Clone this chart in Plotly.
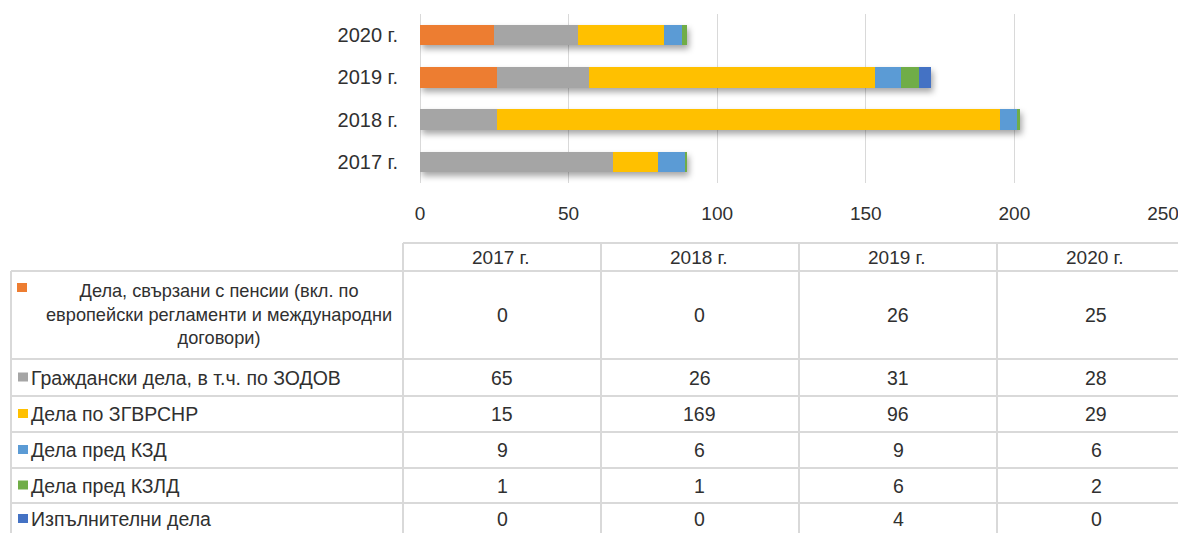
import plotly.graph_objects as go

years = ["2017 г.", "2018 г.", "2019 г.", "2020 г."]
series_names = [
    "Дела, свързани с пенсии (вкл. по<br>европейски регламенти и международни<br>договори)",
    "Граждански дела, в т.ч. по ЗОДОВ",
    "Дела по ЗГВРСНР",
    "Дела пред КЗД",
    "Дела пред КЗЛД",
    "Изпълнителни дела",
]
pensions = [0, 0, 26, 25]
civil = [65, 26, 31, 28]
zgvrsnr = [15, 169, 96, 29]
kzd = [9, 6, 9, 6]
kzld = [1, 1, 6, 2]
executive = [0, 0, 4, 0]
series_values = [pensions, civil, zgvrsnr, kzd, kzld, executive]
colors = ["#ED7D31", "#A5A5A5", "#FFC000", "#5B9BD5", "#70AD47", "#4472C4"]
x_ticks = [0, 50, 100, 150, 200, 250]

W, H = 1178, 533
FONT = "Liberation Sans Narrow, Arial Narrow, Liberation Sans, Arial, sans-serif"
TXT = "#303030"
LINE = "#D9D9D9"
FS = 19.5


def px(x):
    return x / W


def py(y):
    return 1 - y / H


fig = go.Figure()
for name, vals, col in zip(series_names, series_values, colors):
    fig.add_trace(go.Bar(
        y=years, x=vals, orientation="h", name=name.replace("<br>", " "),
        marker=dict(color=col, line=dict(width=0)),
    ))

fig.update_layout(
    width=W, height=H,
    margin=dict(l=0, r=0, t=0, b=0, autoexpand=False),
    paper_bgcolor="white", plot_bgcolor="white",
    barmode="stack", bargap=0.52, showlegend=False,
    font=dict(family=FONT, size=FS, color=TXT),
    xaxis=dict(
        domain=[px(420), px(1163)], range=[0, 250], tickvals=x_ticks,
        showgrid=True, gridcolor=LINE, gridwidth=1,
        zeroline=True, zerolinecolor=LINE, zerolinewidth=1,
        showline=False, ticks="", ticklabelstandoff=17, ticklabeloverflow="allow",
        automargin=False,
        tickfont=dict(family=FONT, size=19, color=TXT), fixedrange=True,
    ),
    yaxis=dict(
        domain=[py(183), py(14)], showgrid=False, zeroline=False, showline=False,
        ticks="", ticklabelstandoff=21, automargin=False,
        tickfont=dict(family=FONT, size=20, color=TXT), fixedrange=True,
    ),
)

shapes = []
annotations = []

# table geometry (pixels)
col_x = [403, 601, 799, 997, 1195]
row_y = [271, 359, 396, 432, 468, 503, 537]
header_top = 243
left_x = 11


def hline(x0, x1, y):
    shapes.append(dict(type="line", xref="paper", yref="paper", x0=px(x0), x1=px(x1),
                       y0=py(y), y1=py(y), line=dict(color=LINE, width=2)))


def vline(x, y0, y1):
    shapes.append(dict(type="line", xref="paper", yref="paper", x0=px(x), x1=px(x),
                       y0=py(y0), y1=py(y1), line=dict(color=LINE, width=2)))


hline(col_x[0], W + 20, header_top)
for y in row_y[:-1]:
    hline(left_x, W + 20, y)
vline(left_x, row_y[0], H + 10)
for x in col_x:
    vline(x, header_top, H + 10)

# header
for i, yr in enumerate(years):
    cx = (col_x[i] + col_x[i + 1]) / 2
    annotations.append(dict(xref="paper", yref="paper", x=px(cx - 2), y=py(257),
                            text=yr, showarrow=False, xanchor="center", yanchor="middle",
                            font=dict(family=FONT, size=19, color=TXT)))

# rows
for r, (name, vals, col) in enumerate(zip(series_names, series_values, colors)):
    y0, y1 = row_y[r], row_y[r + 1]
    cy = (y0 + y1) / 2
    if r == len(series_names) - 1:
        cy = 519
    if r == 0:
        kx0, ky0 = 17, 283
        annotations.append(dict(xref="paper", yref="paper", x=px(219), y=py(cy - 1),
                                text=name, showarrow=False, xanchor="center", yanchor="middle",
                                align="center",
                                font=dict(family=FONT, size=18.2, color=TXT)))
    else:
        kx0, ky0 = 18, cy - 5
        annotations.append(dict(xref="paper", yref="paper", x=px(29), y=py(cy),
                                text=name, showarrow=False, xanchor="left", yanchor="middle",
                                font=dict(family=FONT, size=FS, color=TXT)))
    shapes.append(dict(type="rect", xref="paper", yref="paper", x0=px(kx0), x1=px(kx0 + 10),
                       y0=py(ky0), y1=py(ky0 + 9), line=dict(width=0), fillcolor=col))
    for i, v in enumerate(vals):
        cx = (col_x[i] + col_x[i + 1]) / 2
        annotations.append(dict(xref="paper", yref="paper", x=px(cx), y=py(cy),
                                text=str(v), showarrow=False, xanchor="center", yanchor="middle",
                                font=dict(family=FONT, size=FS, color=TXT)))

fig.update_layout(shapes=shapes, annotations=annotations)
post = (
    "document.body.style.margin='0';document.body.style.overflow='hidden';"
    "document.querySelectorAll('g.barlayer').forEach(function(g){"
    "g.style.filter='drop-shadow(2px 4px 3px rgba(0,0,0,0.35))';});"
)
fig.write_html("out.html", config={"displayModeBar": False}, post_script=post)
